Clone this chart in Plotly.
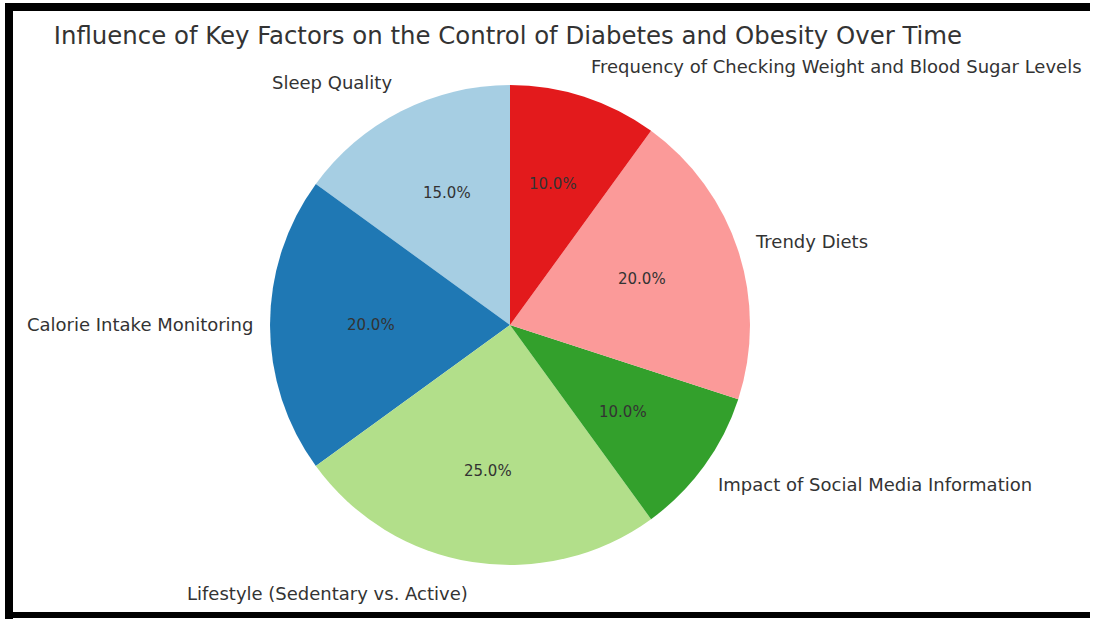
import numpy as np
import plotly.graph_objects as go

# ---- data ----
categories = [
    "Sleep Quality",
    "Calorie Intake Monitoring",
    "Lifestyle (Sedentary vs. Active)",
    "Impact of Social Media Information",
    "Trendy Diets",
    "Frequency of Checking Weight and Blood Sugar Levels",
]
values = [15, 20, 25, 10, 20, 10]
colors = ["#a6cee3", "#1f78b4", "#b2df8a", "#33a02c", "#fb9a99", "#e31a1c"]
title = "Influence of Key Factors on the Control of Diabetes and Obesity Over Time"

# ---- layout geometry (pixels) ----
W, H = 1095, 619
cx, cy, R = 510, 325, 240
rx, ry = 232, 247  # label ellipse matching reference placement

total = float(sum(values))
# plotly (counterclockwise): first slice spans [rotation, rotation+v] clockwise from 12 o'clock,
# so rotate back by the first slice to start it at 12 o'clock going counterclockwise
rotation = -360.0 * values[0] / total

fig = go.Figure(go.Pie(
    labels=categories,
    values=values,
    sort=False,
    direction="counterclockwise",
    rotation=rotation,
    marker=dict(colors=colors, line=dict(width=0)),
    textinfo="none",
    hoverinfo="label+percent",
    showlegend=False,
    domain=dict(x=[(cx - R) / W, (cx + R) / W],
                y=[1 - (cy + R) / H, 1 - (cy - R) / H]),
))

# label / percent annotations derived from the data (matplotlib-style placement)
annotations = []
start = 90.0
txt_col = "#333333"
for cat, v in zip(categories, values):
    span = 360.0 * v / total
    mid = np.deg2rad(start + span / 2)
    start += span
    c, s = np.cos(mid), np.sin(mid)
    lx = cx + 1.1 * rx * c
    ly = cy - 1.1 * ry * s
    annotations.append(dict(
        x=lx / W, y=1 - ly / H, xref="paper", yref="paper",
        text=cat, showarrow=False,
        xanchor="left" if c > 0 else "right", yanchor="middle",
        font=dict(family="DejaVu Sans", size=18, color=txt_col),
    ))
    px = cx + 0.6 * rx * c
    py = cy - 0.6 * ry * s
    annotations.append(dict(
        x=px / W, y=1 - py / H, xref="paper", yref="paper",
        text=f"{100 * v / total:.1f}%", showarrow=False,
        xanchor="center", yanchor="middle",
        font=dict(family="DejaVu Sans", size=15, color=txt_col),
    ))

# frame bands (black border of the reference image)
def band(x0, y0, x1, y1, col="black"):
    return dict(type="rect", xref="paper", yref="paper",
                x0=x0 / W, x1=x1 / W, y0=1 - y1 / H, y1=1 - y0 / H,
                fillcolor=col, line=dict(width=0), layer="above")

shapes = [band(1080, 11, W, 612, "white"),
          band(5, 3, 1090, 11), band(5, 3, 13, H), band(5, 612, 1090, 618)]

fig.update_layout(
    width=W, height=H,
    margin=dict(l=0, r=0, t=0, b=0),
    paper_bgcolor="white", plot_bgcolor="white",
    title=dict(text=title, x=508 / W, xanchor="center", y=1 - 35 / H, yanchor="middle",
               font=dict(family="DejaVu Sans", size=24.4, color="#333333")),
    annotations=annotations,
    shapes=shapes,
)

fig.write_html("out.html")
